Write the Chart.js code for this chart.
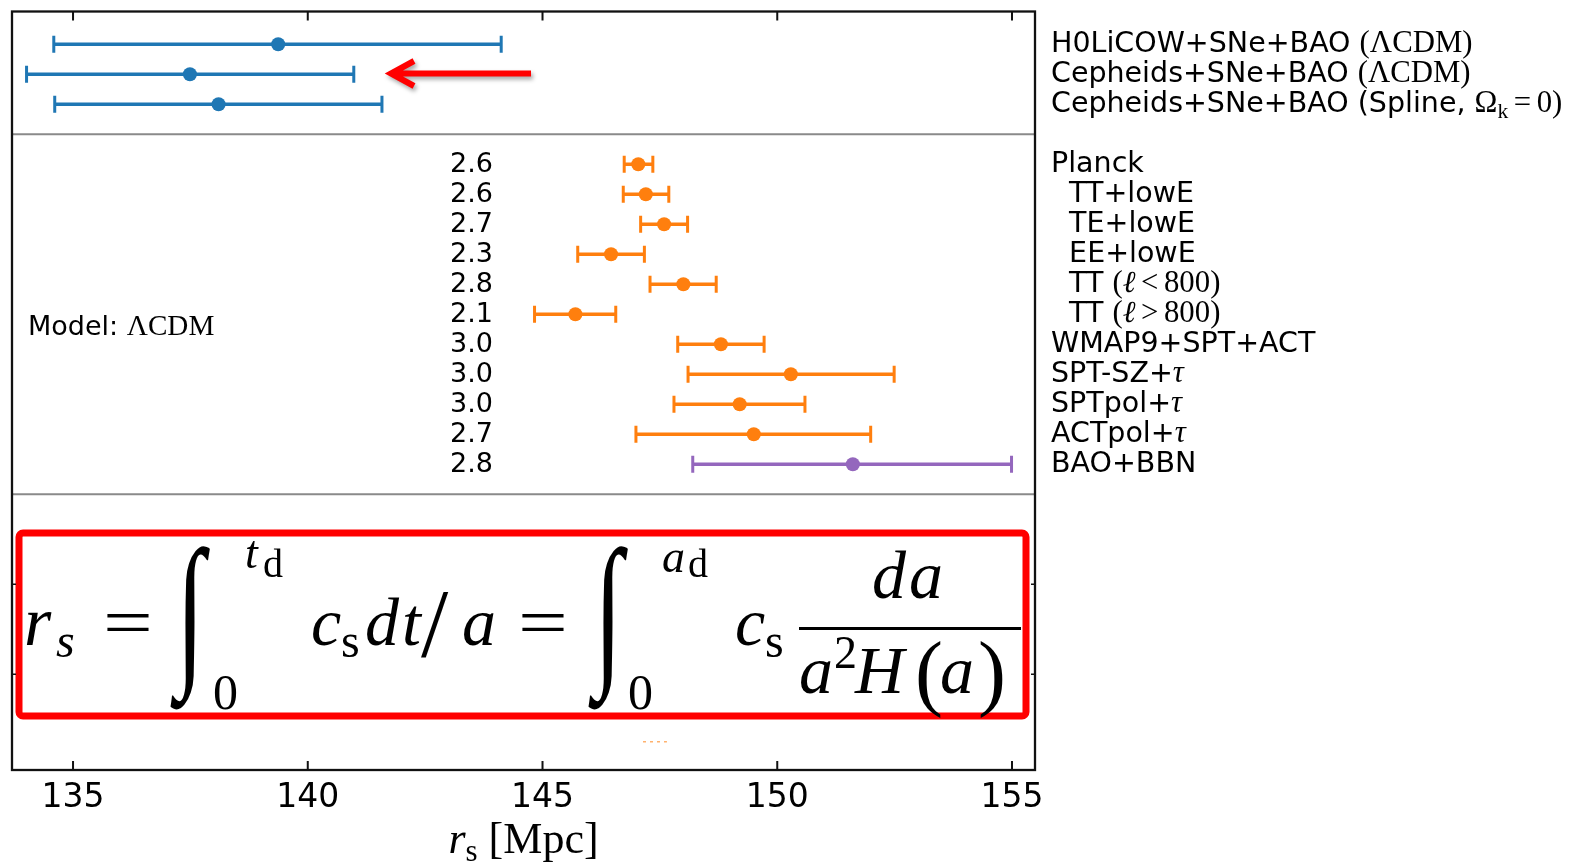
<!DOCTYPE html>
<html>
<head>
<meta charset="utf-8">
<script src="https://cdn.jsdelivr.net/npm/chart.js@4.4.1/dist/chart.umd.min.js"></script>
<style>
  html, body { margin: 0; padding: 0; background: #fff; }
  canvas { display: block; }
</style>
</head>
<body>
<canvas id="chart" width="1575" height="865"></canvas>
<script>
const xTicks = [135, 140, 145, 150, 155];

// distance ladder block
const topLabels = ['H0LiCOW+SNe+BAO $(ΛCDM)$', 'Cepheids+SNe+BAO $(ΛCDM)$', 'Cepheids+SNe+BAO (Spline, $Ω_k=0)$'];
const topRows = [1, 2, 3];
const topMid = [139.37, 137.49, 138.10];
const topLow = [134.59, 134.01, 134.61];
const topHigh = [144.12, 140.98, 141.58];

// CMB + BAO block
const cmbLabels = ['Planck', '  TT+lowE', '  TE+lowE', '  EE+lowE', '  TT $(ℓ<800)$', '  TT $(ℓ>800)$',
  'WMAP9+SPT+ACT', 'SPT-SZ+$τ$', 'SPTpol+$τ$', 'ACTpol+$τ$', 'BAO+BBN'];
const cmbRows = [5, 6, 7, 8, 9, 10, 11, 12, 13, 14, 15];
const cmbMid = [147.04, 147.20, 147.59, 146.46, 148.00, 145.70, 148.80, 150.29, 149.20, 149.50, 151.61];
const cmbLow = [146.74, 146.72, 147.09, 145.75, 147.29, 144.83, 147.88, 148.10, 147.80, 146.99, 148.20];
const cmbHigh = [147.35, 147.69, 148.09, 147.17, 148.70, 146.56, 149.72, 152.49, 150.59, 151.99, 154.99];
const cmbSide = ['2.6', '2.6', '2.7', '2.3', '2.8', '2.1', '3.0', '3.0', '3.0', '2.7', '2.8'];
const cmbKind = ['cmb', 'cmb', 'cmb', 'cmb', 'cmb', 'cmb', 'cmb', 'cmb', 'cmb', 'cmb', 'bao'];

// lower block, almost all hidden under the formula box
const lowRows = [24.25];
const lowLow = [147.14];
const lowHigh = [147.65];

const separators = [4, 16];
const yTickRows = [19, 22];

const BLUE = '#1f77b4', ORANGE = '#ff7f0e', PURPLE = '#9467bd';
const SERIF = '"Liberation Serif"';

function whisker(lo, hi, row, color) {
  return {
    type: 'line',
    data: [{x: lo, y: row}, {x: hi, y: row}],
    borderColor: color,
    borderWidth: 3.5,
    pointStyle: 'line',
    pointRotation: 90,
    pointRadius: 8.5,
    pointBorderWidth: 3,
    pointBorderColor: color,
    order: 2
  };
}

const datasets = [];
topRows.forEach((r, i) => datasets.push(whisker(topLow[i], topHigh[i], r, BLUE)));
cmbRows.forEach((r, i) => datasets.push(whisker(cmbLow[i], cmbHigh[i], r, cmbKind[i] === 'bao' ? PURPLE : ORANGE)));
lowRows.forEach((r, i) => datasets.push({
  type: 'line',
  data: [{x: lowLow[i], y: r}, {x: lowHigh[i], y: r}],
  borderColor: 'rgba(255,127,14,0.6)',
  borderWidth: 1.5,
  borderDash: [3, 4],
  pointRadius: 0,
  order: 2
}));
datasets.push({
  data: topRows.map((r, i) => ({x: topMid[i], y: r})),
  backgroundColor: BLUE, borderWidth: 0, pointRadius: 7, order: 1
});
datasets.push({
  data: cmbRows.map((r, i) => ({x: cmbMid[i], y: r})),
  backgroundColor: cmbKind.map(k => k === 'bao' ? PURPLE : ORANGE),
  borderWidth: 0, pointRadius: 7, order: 1
});

function drawRich(ctx, str, x, y, size) {
  const parts = str.split('$');
  let cx = x;
  parts.forEach((p, i) => {
    if (i % 2 === 0) {
      ctx.font = `${size}px "DejaVu Sans"`;
      ctx.fillText(p, cx, y);
      cx += ctx.measureText(p).width;
    } else {
      const ms = size * 1.08;
      for (let k = 0; k < p.length; k++) {
        let ch = p[k];
        let sub = false;
        if (ch === '_') { sub = true; ch = p[++k]; }
        const it = 'τℓ'.includes(ch) ? 'italic ' : '';
        const s = sub ? ms * 0.7 : ms;
        ctx.font = `${it}${s}px ${SERIF}`;
        const rel = '<>='.includes(ch);
        if (rel) cx += ms * 0.18;
        ctx.fillText(ch, cx, y + (sub ? ms * 0.2 : 0));
        cx += ctx.measureText(ch).width;
        if (rel) cx += ms * 0.18;
      }
    }
  });
}

function txt(ctx, s, x, y, size, style, sx, sy) {
  ctx.save();
  ctx.translate(x, y);
  ctx.scale(sx || 1, sy || 1);
  ctx.font = `${style || ''} ${size}px ${SERIF}`;
  ctx.fillText(s, 0, 0);
  ctx.restore();
}

const frame = {
  id: 'frame',
  beforeDatasetsDraw(chart) {
    const {ctx, chartArea: a, scales: {y}} = chart;
    ctx.save();
    ctx.strokeStyle = '#8a8a8a';
    ctx.lineWidth = 2;
    separators.forEach(s => {
      const py = y.getPixelForValue(s);
      ctx.beginPath(); ctx.moveTo(a.left, py); ctx.lineTo(a.right, py); ctx.stroke();
    });
    ctx.restore();
  },
  afterDatasetsDraw(chart) {
    const {ctx} = chart;
    ctx.save();
    // formula box
    ctx.fillStyle = '#fff';
    ctx.fillRect(19, 533, 1007, 183);
    ctx.strokeStyle = '#ff0000';
    ctx.lineWidth = 7;
    ctx.beginPath();
    ctx.roundRect(19, 533, 1007, 183, 4);
    ctx.stroke();

    ctx.fillStyle = '#000';
    ctx.textAlign = 'left';
    ctx.textBaseline = 'alphabetic';
    txt(ctx, 'r', 24, 645, 70, 'italic');
    txt(ctx, 's', 56, 657, 48, 'italic');
    txt(ctx, '=', 103, 645, 68, '', 1.3, 1);
    txt(ctx, '∫', 176, 665, 104, '', 1, 1.6);
    txt(ctx, 't', 245, 568, 46, 'italic');
    txt(ctx, 'd', 263, 577, 40);
    txt(ctx, '0', 213, 709, 50);
    txt(ctx, 'c', 311, 645, 68, 'italic');
    txt(ctx, 's', 341, 657, 48);
    txt(ctx, 'd', 365, 645, 68, 'italic');
    txt(ctx, 't', 402, 645, 68, 'italic');
    txt(ctx, '/', 421, 656, 98);
    txt(ctx, 'a', 462, 645, 68, 'italic');
    txt(ctx, '=', 518, 645, 68, '', 1.3, 1);
    txt(ctx, '∫', 594, 665, 104, '', 1, 1.6);
    txt(ctx, 'a', 662, 572, 46, 'italic');
    txt(ctx, 'd', 688, 577, 40);
    txt(ctx, '0', 628, 709, 50);
    txt(ctx, 'c', 735, 645, 68, 'italic');
    txt(ctx, 's', 765, 657, 48);
    ctx.fillRect(799, 627, 222, 3);
    txt(ctx, 'd', 872, 598, 68, 'italic');
    txt(ctx, 'a', 909, 598, 68, 'italic');
    txt(ctx, 'a', 799, 693, 68, 'italic');
    txt(ctx, '2', 834, 668, 46);
    txt(ctx, 'H', 855, 693, 68, 'italic');
    txt(ctx, '(', 915, 700, 84);
    txt(ctx, 'a', 940, 693, 68, 'italic');
    txt(ctx, ')', 978, 700, 84);
    ctx.restore();
  },
  afterDraw(chart) {
    const {ctx, chartArea: a, scales: {x, y}} = chart;
    ctx.save();
    // frame and inward ticks
    ctx.strokeStyle = '#111';
    ctx.lineWidth = 2.3;
    ctx.strokeRect(a.left, a.top, a.right - a.left, a.bottom - a.top);
    ctx.lineWidth = 2;
    xTicks.forEach(v => {
      const px = x.getPixelForValue(v);
      ctx.beginPath();
      ctx.moveTo(px, a.top); ctx.lineTo(px, a.top + 9);
      ctx.moveTo(px, a.bottom); ctx.lineTo(px, a.bottom - 9);
      ctx.stroke();
    });
    ctx.lineWidth = 1.5;
    yTickRows.forEach(v => {
      const py = y.getPixelForValue(v);
      ctx.beginPath();
      ctx.moveTo(a.left, py); ctx.lineTo(a.left + 4, py);
      ctx.moveTo(a.right, py); ctx.lineTo(a.right - 4, py);
      ctx.stroke();
    });

    // row labels on the right
    ctx.fillStyle = '#000';
    ctx.textBaseline = 'alphabetic';
    ctx.textAlign = 'left';
    const lx = a.right + 16;
    topRows.forEach((r, i) => drawRich(ctx, topLabels[i], lx, y.getPixelForValue(r) + 7.5, 28.5));
    cmbRows.forEach((r, i) => drawRich(ctx, cmbLabels[i], lx, y.getPixelForValue(r) + 7.5, 28.5));

    // numbers left of the CMB bars
    ctx.font = '27px "DejaVu Sans"';
    ctx.textAlign = 'right';
    cmbRows.forEach((r, i) => ctx.fillText(cmbSide[i], 493, y.getPixelForValue(r) + 8));

    ctx.textAlign = 'left';
    drawRich(ctx, 'Model: $ΛCDM$', 28, y.getPixelForValue(10.42) + 8, 27);

    // axis title r_s [Mpc]
    const cx = (a.left + a.right) / 2;
    ctx.font = `italic 44px ${SERIF}`;
    const w1 = ctx.measureText('r').width;
    ctx.font = `31px ${SERIF}`;
    const w2 = ctx.measureText('s').width;
    ctx.font = `44px ${SERIF}`;
    const w3 = ctx.measureText(' [Mpc]').width;
    let tx = cx - (w1 + w2 + w3) / 2;
    ctx.font = `italic 44px ${SERIF}`; ctx.fillText('r', tx, 853); tx += w1;
    ctx.font = `31px ${SERIF}`; ctx.fillText('s', tx, 861); tx += w2;
    ctx.font = `44px ${SERIF}`; ctx.fillText(' [Mpc]', tx, 853);

    // red arrow
    ctx.strokeStyle = '#ff0000';
    ctx.lineWidth = 6;
    ctx.lineCap = 'butt';
    ctx.lineJoin = 'miter';
    ctx.shadowColor = 'rgba(0,0,0,0.35)';
    ctx.shadowBlur = 4;
    ctx.shadowOffsetX = 2;
    ctx.shadowOffsetY = 3;
    ctx.beginPath();
    ctx.moveTo(531, 73.5); ctx.lineTo(393, 73.5);
    ctx.moveTo(414, 61); ctx.lineTo(391, 73.5); ctx.lineTo(414, 86);
    ctx.stroke();
    ctx.restore();
  }
};

new Chart(document.getElementById('chart'), {
  type: 'scatter',
  data: { datasets },
  options: {
    responsive: false,
    animation: false,
    layout: { padding: { left: 12, top: 8, right: 540, bottom: 0 } },
    plugins: { legend: { display: false }, tooltip: { enabled: false } },
    scales: {
      x: {
        type: 'linear',
        min: 133.70,
        max: 155.49,
        grid: { display: false, drawTicks: false },
        border: { display: false },
        ticks: {
          stepSize: 5,
          includeBounds: false,
          padding: 9,
          color: '#000',
          font: { family: 'DejaVu Sans', size: 33 }
        },
        afterFit(scale) { scale.height = 95; }
      },
      y: {
        type: 'linear',
        display: false,
        reverse: true,
        min: -0.09,
        max: 25.19
      }
    }
  },
  plugins: [frame]
});
</script>
</body>
</html>
